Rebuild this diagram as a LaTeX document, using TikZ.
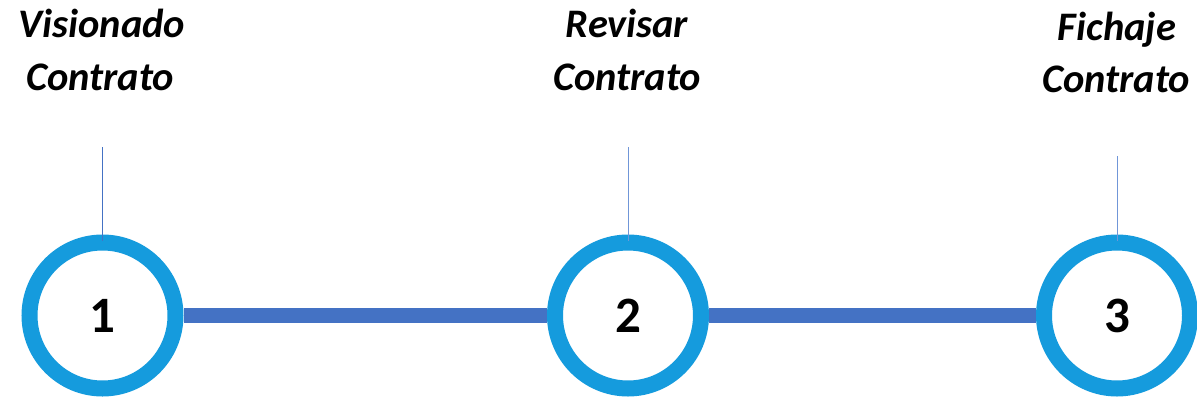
\documentclass[tikz,border=0pt]{standalone}
\usepackage{fontspec}
\setmainfont{Carlito}
\usetikzlibrary{backgrounds}
\definecolor{ringblue}{HTML}{159BDD}
\definecolor{barblue}{HTML}{4472C4}
\definecolor{tickblue}{HTML}{7096D8}
\begin{document}
\begin{tikzpicture}[x=1pt,y=-1pt,
  stepring/.style={circle,draw=ringblue,line width=16pt,fill=white,minimum size=146pt,inner sep=0pt,
    font=\fontsize{51}{57}\selectfont\bfseries},
  labeltext/.style={anchor=base,inner sep=0pt,font=\fontsize{40.5}{48}\selectfont\bfseries\itshape},
  tick/.style={line width=1pt},
  bar/.style={draw=barblue,line width=15pt}]
\useasboundingbox (0,0) rectangle (1197,399);
\node[stepring] (c1) at (102.5,315.5) {1};
\node[stepring] (c2) at (628,315.5) {2};
\node[stepring] (c3) at (1117,315.5) {3};
\begin{scope}[on background layer]
\draw[bar] (c1.east) -- (c2.west);
\draw[bar] (c2.east) -- (c3.west);
\end{scope}
\coordinate (t1) at (102.5,147);
\coordinate (t2) at (628,147);
\coordinate (t3) at (1117,156);
\draw[tick,draw=barblue] (t1) -- ([yshift=-6pt]c1.north);
\draw[tick,draw=tickblue] (t2) -- ([yshift=-6pt]c2.north);
\draw[tick,draw=tickblue] (t3) -- ([yshift=-6pt]c3.north);
\node[labeltext] (l1a) at (102,37) {Visionado};
\node[labeltext] (l1b) at (100,90) {Contrato};
\node[labeltext] (l2a) at (627,37) {Revisar};
\node[labeltext] (l2b) at (627,90) {Contrato};
\node[labeltext] (l3a) at (1117,40) {Fichaje};
\node[labeltext] (l3b) at (1116,92) {Contrato};
\end{tikzpicture}
\end{document}
